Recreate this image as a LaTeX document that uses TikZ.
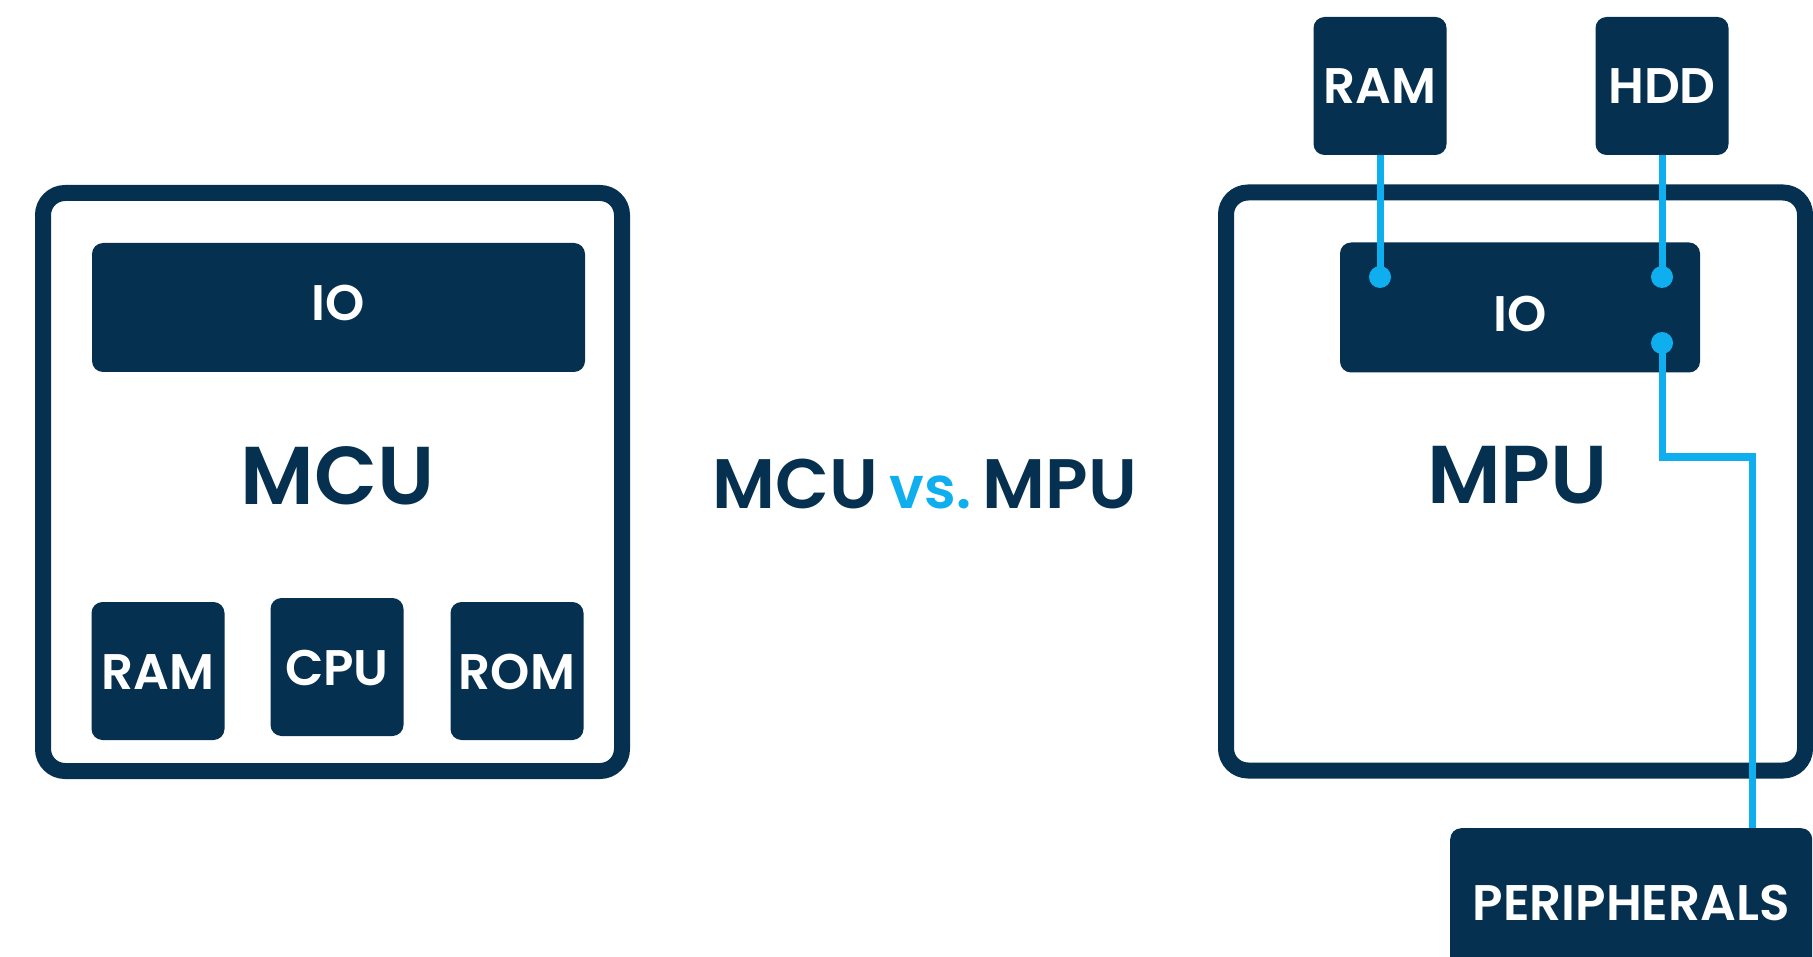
\documentclass[tikz,border=0pt]{standalone}
\usepackage{fontspec}
\setmainfont{Poppins}[BoldFont={Poppins SemiBold}]
\definecolor{navy}{HTML}{06304F}
\definecolor{cyanline}{HTML}{0FAEEF}
\tikzset{
  x=1pt, y=-1pt,
  outerbox/.style={draw=navy, line width=16pt, rounded corners=22pt, fill=white,
    minimum width=579pt, minimum height=578pt, inner sep=0pt},
  chip/.style={fill=navy, rounded corners=11pt, inner sep=0pt, text=white,
    font=\fontsize{50}{50}\selectfont\bfseries, text height=36pt, text depth=0pt},
  small/.style={chip, minimum width=133pt, minimum height=138pt},
  bigtitle/.style={text=navy, font=\fontsize{82}{82}\selectfont\bfseries, inner sep=0pt, anchor=base},
  link/.style={draw=cyanline, line width=7pt},
  dot/.style={circle, fill=cyanline, minimum size=22pt, inner sep=0pt},
}
\begin{document}
\begin{tikzpicture}
\useasboundingbox (0,0) rectangle (1813,957);
% MCU side
\node[outerbox] (mcu) at (332.5,482) {};
\node[chip, minimum width=493pt, minimum height=129pt, text height=26pt] (mcuio) at (338.5,307.5) {IO};
\node[bigtitle] (mcut) at (337.5,504) {MCU};
\node[small] (mram) at (158,671) {RAM};
\node[small] (mcpu) at (337,667) {CPU};
\node[small] (mrom) at (517,671) {ROM};
% middle title
\node[text=navy, font=\fontsize{70}{70}\selectfont\bfseries, inner sep=0pt, anchor=base] (vs) at (925,508)
  {MCU\,\textcolor{cyanline}{\fontsize{58}{58}\selectfont vs.}\,MPU};
% MPU side
\node[outerbox] (mpu) at (1515.5,481.5) {};
\node[chip, minimum width=360pt, minimum height=130pt, text height=48pt] (mpuio) at (1520,307.5) {IO};
\node[bigtitle] (mput) at (1517.5,503) {MPU};
\node[small] (ram2) at (1380,86) {RAM};
\node[small] (hdd) at (1662,86) {HDD};
\node[chip, minimum width=362pt, minimum height=148pt, anchor=north west] (periph) at (1450,828) {PERIPHERALS};
% connectors
\coordinate (p1) at (1380,277);
\coordinate (p2) at (1662,277);
\coordinate (p3) at (1662,343);
\coordinate (b1) at (1662,457);
\coordinate (b2) at (1752,457);
\draw[link] (ram2.south) -- (p1);
\draw[link] (hdd.south) -- (p2);
\draw[link] (p3) -- (b1) -- (b2) -- (b2 |- periph.north);
\node[dot] (d1) at (p1) {};
\node[dot] (d2) at (p2) {};
\node[dot] (d3) at (p3) {};
\end{tikzpicture}
\end{document}
